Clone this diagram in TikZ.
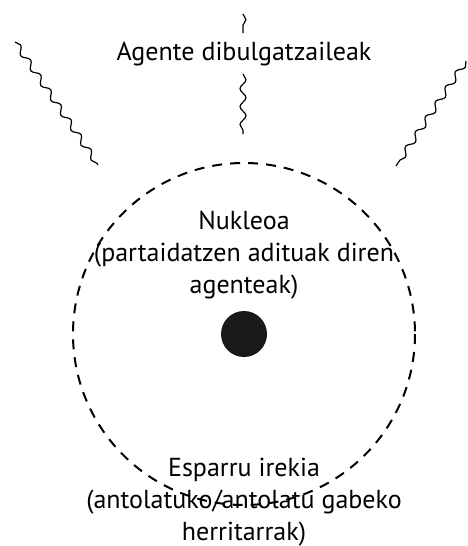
\documentclass[tikz,border=0pt]{standalone}
\usepackage{fontspec}
\setmainfont{PT Sans}
\usetikzlibrary{decorations.pathmorphing}
\tikzset{
  wave/.style={line width=1.2pt,decorate,
    decoration={snake,segment length=18pt,amplitude=3pt}},
  ring/.style={line width=2pt,dash pattern=on 10pt off 8pt},
  label/.style={align=center,font=\fontsize{26}{32}\selectfont,inner sep=0pt}
}
\begin{document}
\begin{tikzpicture}[x=1pt,y=-1pt]
  \useasboundingbox (0,0) rectangle (467,546);
  % ring and core
  \draw[ring] (244,334) circle[radius=171];
  \node[circle,fill=black!90,minimum size=46pt,inner sep=0pt] (core) at (244,334) {};
  % labels (base = last line)
  \node[label,anchor=base] (agents) at (244,60) {Agente dibulgatzaileak};
  \node[label,anchor=base] (nucleus) at (244,293)
    {Nukleoa\\(partaidatzen adituak diren\\agenteak)};
  \node[label,anchor=base] (open) at (244,540)
    {Esparru irekia\\(antolatuko/antolatu gabeko\\herritarrak)};
  % waves
  \coordinate (t1) at (243,14);  \coordinate (t2) at (243,33);
  \coordinate (m1) at (243,74);  \coordinate (m2) at (243,134);
  \coordinate (l1) at (15,42);   \coordinate (l2) at (98,165);
  \coordinate (r1) at (466,61);  \coordinate (r2) at (396,166);
  \draw[wave] (t1) -- (t2);
  \draw[wave] (m1) -- (m2);
  \draw[wave] (l1) -- (l2);
  \draw[wave] (r1) -- (r2);
\end{tikzpicture}
\end{document}
